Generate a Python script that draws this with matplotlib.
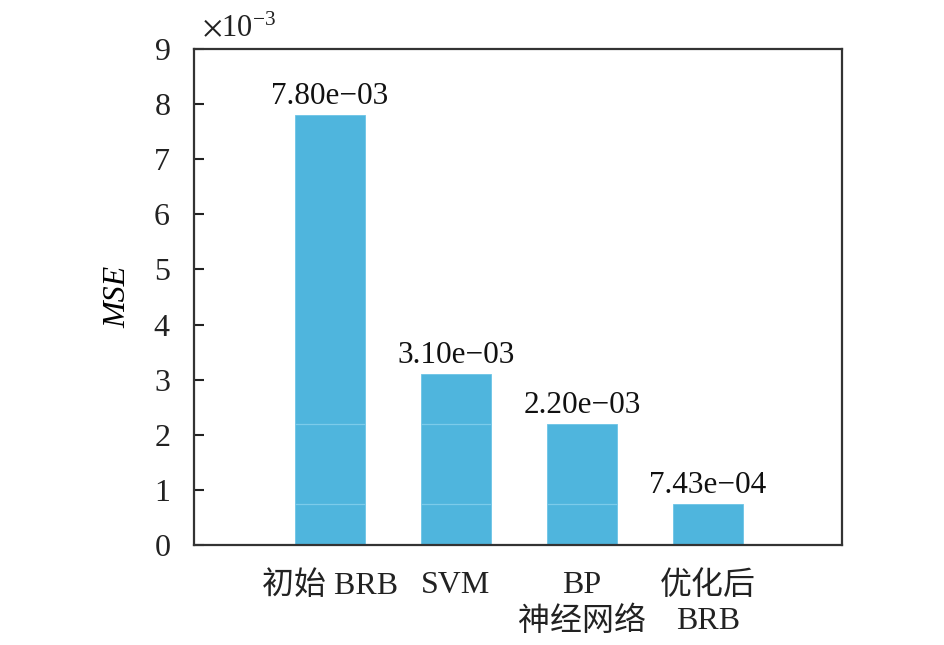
import matplotlib
matplotlib.use("Agg")
import matplotlib.pyplot as plt
from matplotlib.ticker import ScalarFormatter

categories = ["初始 BRB", "SVM", "BP\n神经网络", "优化后\nBRB"]
mse_values = [7.80e-3, 3.10e-3, 2.20e-3, 7.43e-4]
y_ticks = [0, 1e-3, 2e-3, 3e-3, 4e-3, 5e-3, 6e-3, 7e-3, 8e-3, 9e-3]

plt.rcParams['mathtext.fontset'] = 'stix'
FAM = ['Liberation Serif', 'Noto Sans CJK SC']
plt.rcParams['font.family'] = FAM

fig = plt.figure(figsize=(9.45, 6.45), dpi=100)
ax = fig.add_axes([0.2053, 0.155, 0.6857, 0.769])

bar_color = '#4fb5dd'
pos = list(range(1, len(categories) + 1))
ax.bar(pos, mse_values, width=0.56, color=bar_color, edgecolor='#6cc4e6', linewidth=0.6, zorder=2)

# faint seam lines inside taller bars (artefact of the original rendering)
for i, v in enumerate(mse_values):
    for ref in mse_values[2:]:
        if ref < v:
            ax.hlines(ref, pos[i] - 0.28, pos[i] + 0.28, color='#7ccbea', linewidth=0.9, zorder=3)

for p, v in zip(pos, mse_values):
    ax.annotate(f"{v:.2e}".replace('-', '−'), (p, v), xytext=(0, 3), textcoords='offset points',
                ha='center', va='bottom', fontsize=22.5, family=FAM, color='#111111')

ax.set_xlim(1 - 1.08, 4 + 1.065)
ax.set_ylim(0, 9e-3)
ax.set_yticks(y_ticks)
ax.set_xticks(pos)
ax.set_xticklabels(categories, fontsize=23, family=FAM, linespacing=1.25)

fmt = ScalarFormatter(useMathText=True)
fmt.set_powerlimits((-3, -3))
ax.yaxis.set_major_formatter(fmt)
ax.yaxis.get_offset_text().set_visible(False)
ax.text(0.013, 1.011, r'$\times\mathregular{10^{-3}}$', transform=ax.transAxes,
        ha='left', va='bottom', fontsize=22, color='#222222')

ax.tick_params(axis='y', direction='in', length=7, width=1.5, labelsize=23, pad=17, colors='#222222')
ax.tick_params(axis='x', direction='in', length=7, width=1.5, labelsize=23, pad=19, colors='#222222')
for s in ax.spines.values():
    s.set_linewidth(1.6)
    s.set_color('#333333')

ax.set_ylabel('MSE', fontsize=23, style='italic', family=FAM, labelpad=15)

fig.savefig('out.png', dpi=100)
